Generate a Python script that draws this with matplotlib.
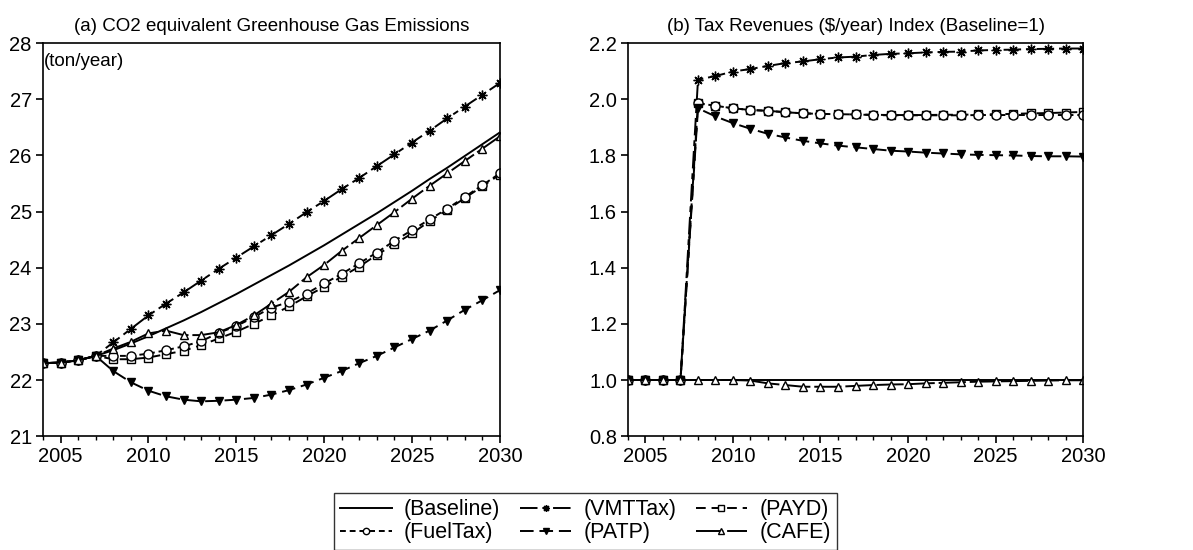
import numpy as np
import matplotlib
matplotlib.use("Agg")
import matplotlib.pyplot as plt
from matplotlib.ticker import MultipleLocator, FormatStrFormatter

plt.rcParams['font.family'] = ['Liberation Sans', 'DejaVu Sans']

years = list(range(2004, 2031))

# (a) CO2 equivalent emissions, ton/year
co2_baseline = [22.30, 22.31, 22.35, 22.43, 22.53, 22.65, 22.78, 22.92, 23.06, 23.21, 23.37, 23.53, 23.70, 23.87,
                24.04, 24.22, 24.40, 24.59, 24.78, 24.97, 25.17, 25.37, 25.58, 25.78, 25.99, 26.20, 26.41]
co2_vmttax = [22.30, 22.31, 22.35, 22.43, 22.67, 22.91, 23.15, 23.36, 23.56, 23.77, 23.98, 24.18, 24.38, 24.58,
              24.78, 24.99, 25.19, 25.40, 25.60, 25.81, 26.02, 26.23, 26.44, 26.66, 26.87, 27.08, 27.29]
co2_payd = [22.30, 22.31, 22.35, 22.43, 22.37, 22.37, 22.40, 22.46, 22.52, 22.62, 22.74, 22.86, 23.00, 23.15,
            23.31, 23.49, 23.66, 23.84, 24.02, 24.23, 24.42, 24.61, 24.83, 25.03, 25.24, 25.45, 25.66]
co2_fueltax = [22.30, 22.31, 22.35, 22.43, 22.43, 22.43, 22.47, 22.53, 22.60, 22.69, 22.84, 22.96, 23.12, 23.29,
               23.39, 23.54, 23.72, 23.89, 24.08, 24.27, 24.48, 24.67, 24.86, 25.05, 25.26, 25.47, 25.68]
co2_patp = [22.30, 22.31, 22.35, 22.43, 22.16, 21.96, 21.81, 21.71, 21.65, 21.62, 21.63, 21.65, 21.68, 21.74,
            21.82, 21.92, 22.04, 22.16, 22.30, 22.43, 22.58, 22.73, 22.88, 23.06, 23.25, 23.42, 23.60]
co2_cafe = [22.30, 22.31, 22.35, 22.43, 22.56, 22.68, 22.83, 22.88, 22.80, 22.80, 22.85, 22.98, 23.15, 23.36,
            23.57, 23.83, 24.05, 24.30, 24.53, 24.76, 24.99, 25.23, 25.46, 25.68, 25.90, 26.12, 26.34]

# (b) tax revenue index, baseline = 1
tax_baseline = [1.0] * 27
tax_vmttax = [1.0, 1.0, 1.0, 1.0, 2.070, 2.083, 2.099, 2.108, 2.119, 2.129, 2.135, 2.143, 2.149, 2.152,
              2.158, 2.162, 2.164, 2.167, 2.169, 2.170, 2.174, 2.176, 2.177, 2.179, 2.180, 2.181, 2.181]
tax_payd = [1.0, 1.0, 1.0, 1.0, 1.986, 1.977, 1.968, 1.962, 1.959, 1.954, 1.950, 1.948, 1.947, 1.946,
            1.945, 1.944, 1.944, 1.944, 1.945, 1.945, 1.946, 1.947, 1.948, 1.950, 1.951, 1.953, 1.955]
tax_fueltax = [1.0, 1.0, 1.0, 1.0, 1.986, 1.977, 1.968, 1.962, 1.959, 1.954, 1.950, 1.948, 1.947, 1.946,
               1.944, 1.943, 1.943, 1.943, 1.943, 1.943, 1.944, 1.944, 1.944, 1.944, 1.944, 1.944, 1.944]
tax_patp = [1.0, 1.0, 1.0, 1.0, 1.968, 1.939, 1.915, 1.895, 1.877, 1.864, 1.852, 1.843, 1.835, 1.829,
            1.823, 1.817, 1.814, 1.810, 1.807, 1.804, 1.802, 1.801, 1.800, 1.798, 1.797, 1.797, 1.796]
tax_cafe = [1.0, 1.0, 1.0, 1.0, 1.0, 1.0, 1.0, 0.998, 0.988, 0.982, 0.976, 0.976, 0.976, 0.979,
            0.982, 0.984, 0.985, 0.988, 0.990, 0.992, 0.994, 0.995, 0.996, 0.997, 0.998, 0.999, 0.999]

names = ['(Baseline)', '(VMTTax)', '(PAYD)', '(FuelTax)', '(PATP)', '(CAFE)']
styles = [
    dict(ls='-', marker=None),
    dict(ls=(0, (9, 2.5, 3, 2.5)), marker=(8, 2, 0), ms=7, mfc='black'),
    dict(ls=(0, (5, 3)), marker='s', ms=5.5, mfc='white'),
    dict(ls=(0, (3, 2)), marker='o', ms=6.5, mfc='white'),
    dict(ls=(0, (7, 3)), marker='v', ms=6, mfc='black'),
    dict(ls=(0, (14, 2)), marker='^', ms=5.5, mfc='white'),
]

fig = plt.figure(figsize=(11.93, 5.5), dpi=100)
ax1 = fig.add_axes([0.036, 0.207, 0.383, 0.7145])
ax2 = fig.add_axes([0.5264, 0.207, 0.3814, 0.7145])

panels = [
    (ax1, [co2_baseline, co2_vmttax, co2_payd, co2_fueltax, co2_patp, co2_cafe]),
    (ax2, [tax_baseline, tax_vmttax, tax_payd, tax_fueltax, tax_patp, tax_cafe]),
]

handles = []
for ax, series in panels:
    hs = []
    for name, vals, st in zip(names, series, styles):
        st = dict(st)
        ls = st.pop('ls')
        h, = ax.plot(years, vals, color='black', linestyle=ls, lw=1.4, mec='black', mew=1.0,
                     label=name, **st)
        hs.append(h)
    handles = hs
    ax.set_xlim(2004, 2030)
    ax.xaxis.set_major_locator(MultipleLocator(5))
    ax.xaxis.set_minor_locator(MultipleLocator(1))
    ax.tick_params(axis='both', which='major', direction='out', length=5, width=1.2, labelsize=14.5,
                   top=False, right=False, pad=3)
    ax.tick_params(axis='x', which='minor', direction='out', length=3, width=1.0)
    for s in ax.spines.values():
        s.set_linewidth(1.2)

ax1.set_ylim(21, 28)
ax1.yaxis.set_major_locator(MultipleLocator(1))
ax1.set_title('(a) CO2 equivalent Greenhouse Gas Emissions', fontsize=13.5, pad=9)
ax1.text(0.003, 0.975, '(ton/year)', transform=ax1.transAxes, ha='left', va='top', fontsize=13.5)

ax2.set_ylim(0.8, 2.2)
ax2.yaxis.set_major_locator(MultipleLocator(0.2))
ax2.yaxis.set_major_formatter(FormatStrFormatter('%.1f'))
ax2.set_title('(b) Tax Revenues ($/year) Index (Baseline=1)', fontsize=13.5, pad=9)

order = [0, 3, 1, 4, 2, 5]
leg = fig.legend([handles[i] for i in order], [names[i] for i in order], ncol=3,
                 loc='upper left', bbox_to_anchor=(0.28, 0.104), borderaxespad=0, fontsize=15.5,
                 frameon=True, fancybox=False, edgecolor='black', handlelength=2.4, columnspacing=0.9,
                 handletextpad=0.55, borderpad=0.3, labelspacing=0.1, markerscale=0.7)
leg.get_frame().set_linewidth(1.0)

fig.savefig('out.png', dpi=100)
